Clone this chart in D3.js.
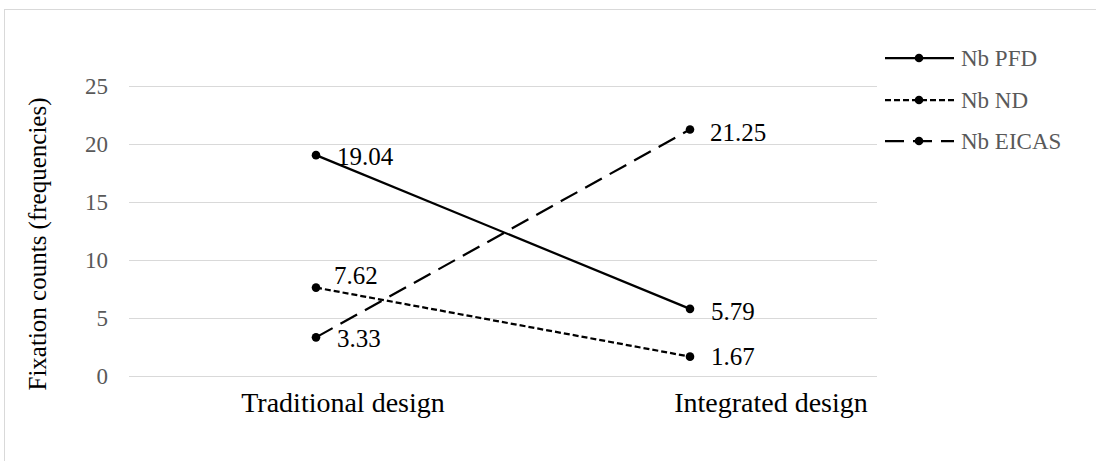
<!DOCTYPE html>
<html>
<head>
<meta charset="utf-8">
<script src="https://cdn.jsdelivr.net/npm/d3@7"></script>
<style>
  html, body { margin: 0; padding: 0; background: #fff; }
  svg { display: block; }
</style>
</head>
<body>
<svg id="chart" width="1096" height="461"></svg>
<script>
// Fixation counts per instrument display, by cockpit design
const categories = ["Traditional design", "Integrated design"];
const seriesNames = ["Nb PFD", "Nb ND", "Nb EICAS"];
const pfdValues = [19.04, 5.79];
const ndValues = [7.62, 1.67];
const eicasValues = [3.33, 21.25];
const yTicks = [0, 5, 10, 15, 20, 25];
const yTitle = "Fixation  counts (frequencies)";

const FONT = "'Liberation Serif', 'Times New Roman', 'DejaVu Serif', serif";

const series = [
  { name: seriesNames[0], values: pfdValues, dash: null },
  { name: seriesNames[1], values: ndValues, dash: "6,3" },
  { name: seriesNames[2], values: eicasValues, dash: "19,9" }
];

// label placement per point: [dx, dy] relative to the marker
const labelOffsets = [
  [[21, 1], [21, 2]],
  [[18, -12], [21, 0]],
  [[21, 1], [20, 3]]
];
// horizontal shift of each category label from its band centre
const categoryLabelShift = [27, 81];

const svg = d3.select("#chart");
const plot = { left: 129, right: 877, top: 86, bottom: 376 };

// chart frame
svg.append("rect")
  .attr("x", 4.5).attr("y", 9.5)
  .attr("width", 1200).attr("height", 600)
  .attr("fill", "#fff").attr("stroke", "#d9d9d9").attr("stroke-width", 1);

const x = d3.scaleBand().domain(categories).range([plot.left, plot.right]);
const y = d3.scaleLinear().domain([0, 25]).range([plot.bottom, plot.top]);

// gridlines + tick labels
const yAxis = d3.axisLeft(y).tickValues(yTicks).tickSize(-(plot.right - plot.left)).tickPadding(21);
const gy = svg.append("g").attr("transform", `translate(${plot.left},0)`).call(yAxis);
gy.attr("font-family", FONT).attr("font-size", 23);
gy.select(".domain").remove();
gy.selectAll(".tick line").attr("stroke", "#d9d9d9").attr("stroke-width", 1);
gy.selectAll(".tick text").attr("fill", "#595959");

// category labels
const xAxis = d3.axisBottom(x).tickSize(0).tickPadding(0);
const gx = svg.append("g").attr("transform", `translate(0,${plot.bottom})`).call(xAxis);
gx.attr("font-family", FONT).attr("font-size", 28);
gx.select(".domain").remove();
gx.selectAll(".tick text")
  .attr("fill", "#000")
  .attr("dy", null)
  .attr("y", 36)
  .attr("x", (d, i) => categoryLabelShift[i]);

// y-axis title
svg.append("text")
  .attr("transform", `translate(46,244) rotate(-90)`)
  .attr("text-anchor", "middle")
  .attr("font-family", FONT)
  .attr("font-size", 25)
  .attr("fill", "#000")
  .text(yTitle);

const cx = c => x(c) + x.bandwidth() / 2;
const line = d3.line().x(d => cx(d.c)).y(d => y(d.v));

series.forEach((s, si) => {
  const pts = categories.map((c, i) => ({ c, v: s.values[i] }));
  svg.append("path")
    .datum(pts)
    .attr("d", line)
    .attr("fill", "none")
    .attr("stroke", "#000")
    .attr("stroke-width", 2.25)
    .attr("stroke-dasharray", s.dash);
  svg.selectAll(null).data(pts).enter().append("circle")
    .attr("cx", d => cx(d.c)).attr("cy", d => y(d.v))
    .attr("r", 4.3).attr("fill", "#000");
  svg.selectAll(null).data(pts).enter().append("text")
    .attr("x", (d, i) => cx(d.c) + labelOffsets[si][i][0])
    .attr("y", (d, i) => y(d.v) + labelOffsets[si][i][1])
    .attr("dy", "0.35em")
    .attr("font-family", FONT)
    .attr("font-size", 25)
    .attr("fill", "#000")
    .text(d => d.v.toFixed(2));
});

// legend
const legend = svg.append("g");
const legendY = [58, 100, 141];
series.forEach((s, i) => {
  const g = legend.append("g").attr("transform", `translate(0,${legendY[i]})`);
  g.append("line")
    .attr("x1", 885).attr("x2", 954).attr("y1", 0).attr("y2", 0)
    .attr("stroke", "#000").attr("stroke-width", 2.25)
    .attr("stroke-dasharray", s.dash);
  g.append("circle").attr("cx", 919).attr("cy", 0).attr("r", 4.3).attr("fill", "#000");
  g.append("text")
    .attr("x", 961).attr("y", 0).attr("dy", "0.35em")
    .attr("font-family", FONT)
    .attr("font-size", 23)
    .attr("fill", "#595959")
    .text(s.name);
});
</script>
</body>
</html>
